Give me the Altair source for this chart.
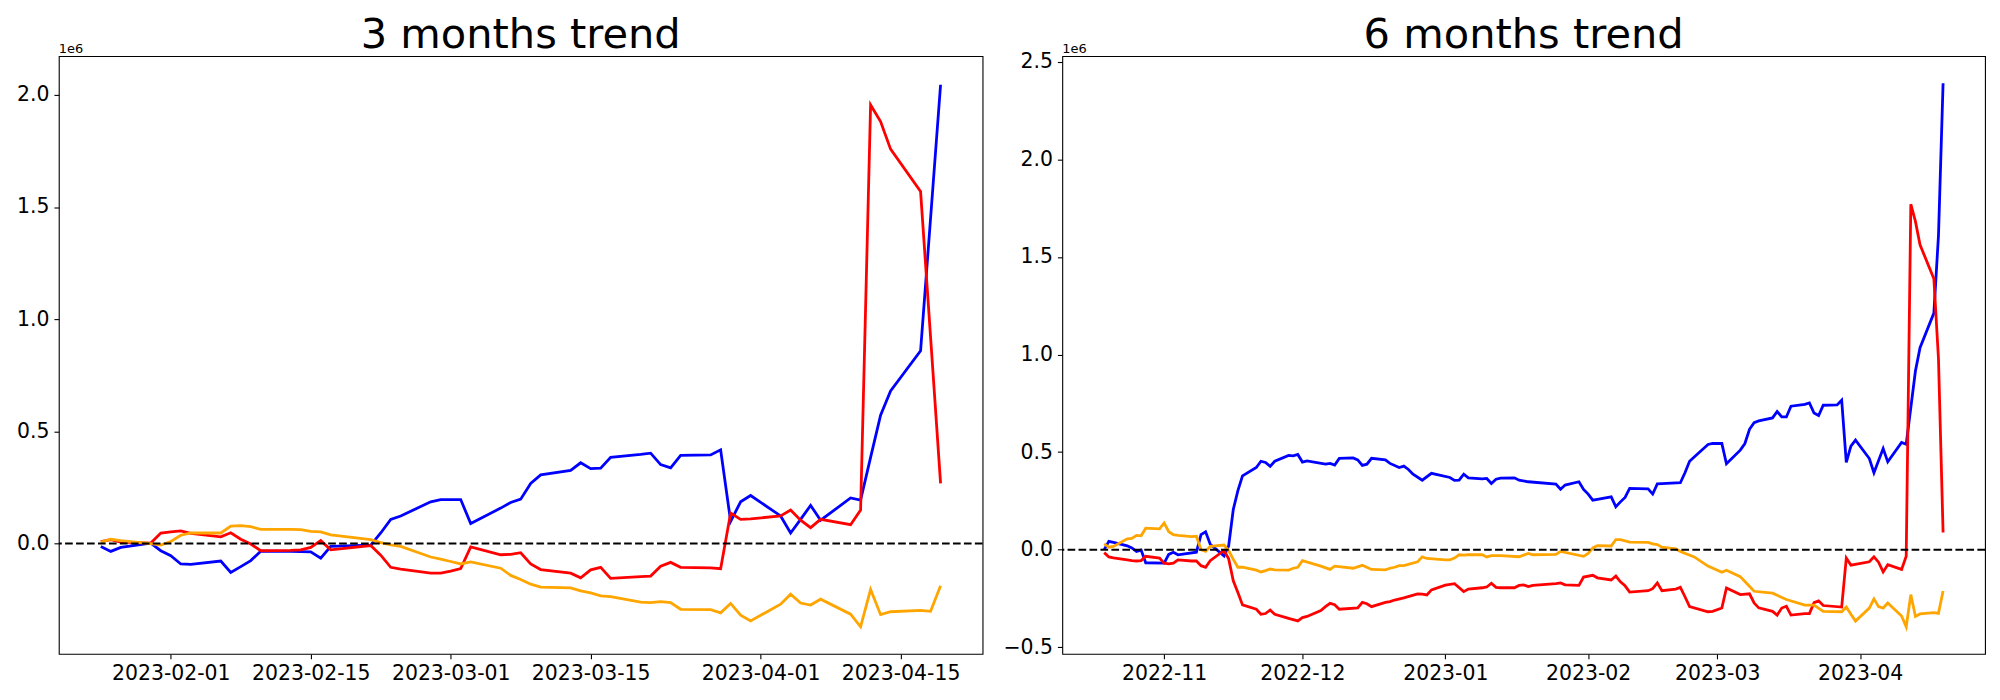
import altair as alt
import pandas as pd

# ---------------- 3 months panel (values in units of 1e6) ----------------
L_DATES = [
    "2023-01-25", "2023-01-26", "2023-01-27", "2023-01-30", "2023-01-31",
    "2023-02-01", "2023-02-02", "2023-02-03", "2023-02-06", "2023-02-07",
    "2023-02-08", "2023-02-09", "2023-02-10", "2023-02-13", "2023-02-14",
    "2023-02-15", "2023-02-16", "2023-02-17", "2023-02-21", "2023-02-22",
    "2023-02-23", "2023-02-24", "2023-02-27", "2023-02-28", "2023-03-01",
    "2023-03-02", "2023-03-03", "2023-03-06", "2023-03-07", "2023-03-08",
    "2023-03-09", "2023-03-10", "2023-03-13", "2023-03-14", "2023-03-15",
    "2023-03-16", "2023-03-17", "2023-03-20", "2023-03-21", "2023-03-22",
    "2023-03-23", "2023-03-24", "2023-03-27", "2023-03-28", "2023-03-29",
    "2023-03-30", "2023-03-31", "2023-04-03", "2023-04-04", "2023-04-05",
    "2023-04-06", "2023-04-07", "2023-04-10", "2023-04-11", "2023-04-12",
    "2023-04-13", "2023-04-14", "2023-04-17", "2023-04-18", "2023-04-19",
]
L_BLUE = [
    -0.013, -0.035, -0.017, 0.002, -0.032,
    -0.054, -0.091, -0.093, -0.078, -0.129,
    -0.103, -0.076, -0.034, -0.035, -0.036,
    -0.037, -0.065, -0.013, -0.007, 0.047,
    0.108, 0.123, 0.186, 0.196, 0.196,
    0.196, 0.089, 0.158, 0.183, 0.198,
    0.268, 0.306, 0.326, 0.360, 0.334,
    0.336, 0.384, 0.397, 0.403, 0.352,
    0.337, 0.393, 0.395, 0.418, 0.099,
    0.186, 0.214, 0.123, 0.047, 0.108,
    0.170, 0.104, 0.203, 0.194, 0.384,
    0.572, 0.680, 0.859, 1.450, 2.045,
]
L_RED = [
    0.009, 0.017, 0.006, 0.002, 0.047,
    0.052, 0.056, 0.045, 0.030, 0.048,
    0.019, -0.002, -0.032, -0.030, -0.028,
    -0.017, 0.013, -0.028, -0.009, -0.052,
    -0.106, -0.114, -0.132, -0.132, -0.123,
    -0.112, -0.015, -0.050, -0.048, -0.041,
    -0.091, -0.116, -0.132, -0.153, -0.117,
    -0.106, -0.155, -0.147, -0.145, -0.101,
    -0.084, -0.106, -0.108, -0.112, 0.136,
    0.108, 0.110, 0.123, 0.149, 0.104,
    0.071, 0.108, 0.084, 0.149, 1.955,
    1.881, 1.758, 1.569, 0.920, 0.268,
]
L_ORANGE = [
    0.006, 0.019, 0.013, 0.000, -0.007,
    0.009, 0.037, 0.048, 0.047, 0.078,
    0.080, 0.075, 0.063, 0.063, 0.062,
    0.054, 0.052, 0.039, 0.017, 0.004,
    -0.006, -0.013, -0.060, -0.069, -0.080,
    -0.091, -0.082, -0.110, -0.142, -0.160,
    -0.181, -0.194, -0.198, -0.211, -0.220,
    -0.233, -0.237, -0.261, -0.263, -0.259,
    -0.263, -0.293, -0.295, -0.309, -0.267,
    -0.319, -0.345, -0.270, -0.226, -0.265,
    -0.274, -0.248, -0.315, -0.371, -0.205,
    -0.317, -0.304, -0.298, -0.302, -0.188,
]

# ---------------- 6 months panel (values in units of 1e6) ----------------
R_BLUE_DATES = [
    "2022-10-19", "2022-10-20", "2022-10-21", "2022-10-24", "2022-10-25", "2022-10-26",
    "2022-10-27", "2022-10-28", "2022-11-01", "2022-11-02", "2022-11-03", "2022-11-04",
    "2022-11-08", "2022-11-09", "2022-11-10", "2022-11-11", "2022-11-14", "2022-11-15",
    "2022-11-16", "2022-11-17", "2022-11-18", "2022-11-21", "2022-11-22", "2022-11-23",
    "2022-11-24", "2022-11-25", "2022-11-28", "2022-11-29", "2022-11-30", "2022-12-01",
    "2022-12-02", "2022-12-06", "2022-12-07", "2022-12-08", "2022-12-09", "2022-12-12",
    "2022-12-13", "2022-12-14", "2022-12-15", "2022-12-16", "2022-12-19", "2022-12-20",
    "2022-12-22", "2022-12-23", "2022-12-24", "2022-12-25", "2022-12-27", "2022-12-29",
    "2023-01-02", "2023-01-03", "2023-01-04", "2023-01-05", "2023-01-06", "2023-01-09",
    "2023-01-10", "2023-01-11", "2023-01-12", "2023-01-13", "2023-01-16", "2023-01-17",
    "2023-01-19", "2023-01-25", "2023-01-26", "2023-01-27", "2023-01-30", "2023-01-31",
    "2023-02-01", "2023-02-02", "2023-02-03", "2023-02-06", "2023-02-07", "2023-02-08",
    "2023-02-09", "2023-02-10", "2023-02-14", "2023-02-15", "2023-02-16", "2023-02-17",
    "2023-02-21", "2023-02-22", "2023-02-23", "2023-02-24", "2023-02-27", "2023-02-28",
    "2023-03-02", "2023-03-03", "2023-03-06", "2023-03-07", "2023-03-08", "2023-03-09",
    "2023-03-10", "2023-03-13", "2023-03-14", "2023-03-15", "2023-03-16", "2023-03-17",
    "2023-03-20", "2023-03-21", "2023-03-22", "2023-03-23", "2023-03-24", "2023-03-27",
    "2023-03-28", "2023-03-29", "2023-03-30", "2023-03-31", "2023-04-03", "2023-04-04",
    "2023-04-06", "2023-04-07", "2023-04-10", "2023-04-11", "2023-04-13", "2023-04-14",
    "2023-04-17", "2023-04-18", "2023-04-19",
]
R_BLUE = [
    0.000, 0.043, 0.037, 0.020, 0.009, -0.009,
    -0.002, -0.067, -0.069, -0.024, -0.013, -0.026,
    -0.013, 0.077, 0.092, 0.028, -0.032, 0.020,
    0.206, 0.303, 0.378, 0.421, 0.453, 0.447,
    0.427, 0.453, 0.483, 0.481, 0.488, 0.449,
    0.455, 0.438, 0.442, 0.434, 0.468, 0.470,
    0.460, 0.432, 0.438, 0.468, 0.460, 0.442,
    0.421, 0.428, 0.411, 0.387, 0.356, 0.391,
    0.370, 0.355, 0.356, 0.387, 0.368, 0.363,
    0.365, 0.339, 0.361, 0.367, 0.368, 0.356,
    0.348, 0.336, 0.310, 0.331, 0.348, 0.309,
    0.285, 0.254, 0.258, 0.271, 0.220, 0.245,
    0.268, 0.314, 0.312, 0.285, 0.337, 0.339,
    0.343, 0.394, 0.453, 0.475, 0.539, 0.544,
    0.544, 0.440, 0.510, 0.544, 0.617, 0.651,
    0.660, 0.675, 0.708, 0.680, 0.680, 0.735,
    0.745, 0.752, 0.700, 0.687, 0.740, 0.742,
    0.766, 0.447, 0.530, 0.561, 0.467, 0.394,
    0.518, 0.450, 0.549, 0.540, 0.915, 1.035,
    1.212, 1.609, 2.390,
]

R_RED_DATES = [
    "2022-10-19", "2022-10-20", "2022-10-21", "2022-10-24", "2022-10-25", "2022-10-26",
    "2022-10-27", "2022-10-28", "2022-10-31", "2022-11-01", "2022-11-02", "2022-11-03",
    "2022-11-04", "2022-11-07", "2022-11-08", "2022-11-09", "2022-11-10", "2022-11-11",
    "2022-11-14", "2022-11-15", "2022-11-16", "2022-11-17", "2022-11-18", "2022-11-21",
    "2022-11-22", "2022-11-23", "2022-11-24", "2022-11-25", "2022-11-28", "2022-11-30",
    "2022-12-01", "2022-12-02", "2022-12-05", "2022-12-06", "2022-12-07", "2022-12-08",
    "2022-12-09", "2022-12-13", "2022-12-14", "2022-12-15", "2022-12-16", "2022-12-19",
    "2022-12-20", "2022-12-21", "2022-12-23", "2022-12-26", "2022-12-27", "2022-12-28",
    "2022-12-29", "2023-01-01", "2023-01-03", "2023-01-05", "2023-01-06", "2023-01-09",
    "2023-01-10", "2023-01-11", "2023-01-12", "2023-01-13", "2023-01-16", "2023-01-17",
    "2023-01-18", "2023-01-19", "2023-01-20", "2023-01-25", "2023-01-26", "2023-01-27",
    "2023-01-30", "2023-01-31", "2023-02-02", "2023-02-03", "2023-02-06", "2023-02-07",
    "2023-02-08", "2023-02-09", "2023-02-10", "2023-02-14", "2023-02-15", "2023-02-16",
    "2023-02-17", "2023-02-20", "2023-02-21", "2023-02-22", "2023-02-23", "2023-02-27",
    "2023-02-28", "2023-03-02", "2023-03-03", "2023-03-06", "2023-03-08", "2023-03-09",
    "2023-03-10", "2023-03-13", "2023-03-14", "2023-03-15", "2023-03-16", "2023-03-17",
    "2023-03-20", "2023-03-21", "2023-03-22", "2023-03-23", "2023-03-24", "2023-03-28",
    "2023-03-29", "2023-03-30", "2023-04-03", "2023-04-04", "2023-04-05", "2023-04-06",
    "2023-04-07", "2023-04-10", "2023-04-11", "2023-04-12", "2023-04-13", "2023-04-14",
    "2023-04-17", "2023-04-18", "2023-04-19",
]
R_RED = [
    -0.015, -0.037, -0.042, -0.052, -0.056, -0.058,
    -0.056, -0.034, -0.043, -0.069, -0.073, -0.069,
    -0.052, -0.058, -0.058, -0.082, -0.090, -0.056,
    -0.004, -0.047, -0.159, -0.219, -0.283, -0.305,
    -0.331, -0.327, -0.309, -0.331, -0.352, -0.365,
    -0.348, -0.342, -0.312, -0.292, -0.275, -0.282,
    -0.305, -0.298, -0.270, -0.277, -0.292, -0.270,
    -0.266, -0.258, -0.247, -0.226, -0.228, -0.232,
    -0.206, -0.182, -0.174, -0.215, -0.202, -0.195,
    -0.191, -0.172, -0.193, -0.195, -0.195, -0.183,
    -0.180, -0.189, -0.183, -0.174, -0.170, -0.180,
    -0.183, -0.140, -0.131, -0.144, -0.155, -0.135,
    -0.165, -0.185, -0.217, -0.210, -0.200, -0.170,
    -0.210, -0.202, -0.193, -0.241, -0.292, -0.318,
    -0.316, -0.299, -0.196, -0.230, -0.226, -0.273,
    -0.298, -0.316, -0.335, -0.299, -0.290, -0.335,
    -0.327, -0.327, -0.271, -0.262, -0.286, -0.294,
    -0.043, -0.079, -0.062, -0.037, -0.064, -0.114,
    -0.077, -0.101, -0.034, 1.770, 1.682, 1.562,
    1.388, 0.979, 0.088,
]

R_ORANGE_DATES = [
    "2022-10-19", "2022-10-20", "2022-10-21", "2022-10-24", "2022-10-25", "2022-10-26",
    "2022-10-27", "2022-10-28", "2022-10-31", "2022-11-01", "2022-11-02", "2022-11-03",
    "2022-11-04", "2022-11-07", "2022-11-08", "2022-11-09", "2022-11-10", "2022-11-11",
    "2022-11-14", "2022-11-15", "2022-11-16", "2022-11-17", "2022-11-18", "2022-11-21",
    "2022-11-22", "2022-11-23", "2022-11-24", "2022-11-25", "2022-11-28", "2022-11-29",
    "2022-11-30", "2022-12-01", "2022-12-05", "2022-12-07", "2022-12-08", "2022-12-12",
    "2022-12-14", "2022-12-16", "2022-12-19", "2022-12-20", "2022-12-21", "2022-12-22",
    "2022-12-23", "2022-12-26", "2022-12-27", "2022-12-28", "2023-01-01", "2023-01-02",
    "2023-01-03", "2023-01-04", "2023-01-05", "2023-01-06", "2023-01-09", "2023-01-10",
    "2023-01-11", "2023-01-13", "2023-01-17", "2023-01-19", "2023-01-20", "2023-01-25",
    "2023-01-26", "2023-01-31", "2023-02-01", "2023-02-02", "2023-02-03", "2023-02-06",
    "2023-02-07", "2023-02-08", "2023-02-10", "2023-02-14", "2023-02-15", "2023-02-16",
    "2023-02-17", "2023-02-20", "2023-02-21", "2023-02-24", "2023-02-27", "2023-03-02",
    "2023-03-03", "2023-03-06", "2023-03-07", "2023-03-09", "2023-03-13", "2023-03-16",
    "2023-03-20", "2023-03-22", "2023-03-24", "2023-03-28", "2023-03-29", "2023-03-30",
    "2023-03-31", "2023-04-03", "2023-04-04", "2023-04-05", "2023-04-06", "2023-04-07",
    "2023-04-10", "2023-04-11", "2023-04-12", "2023-04-13", "2023-04-14", "2023-04-17",
    "2023-04-18", "2023-04-19",
]
R_ORANGE = [
    0.030, 0.013, 0.017, 0.056, 0.058, 0.073,
    0.071, 0.110, 0.107, 0.137, 0.092, 0.077,
    0.073, 0.067, 0.069, 0.000, -0.009, 0.017,
    0.024, -0.004, -0.050, -0.090, -0.090, -0.105,
    -0.114, -0.107, -0.099, -0.103, -0.105, -0.095,
    -0.090, -0.056, -0.084, -0.101, -0.084, -0.095,
    -0.080, -0.101, -0.103, -0.095, -0.090, -0.082,
    -0.082, -0.062, -0.037, -0.045, -0.052, -0.052,
    -0.043, -0.026, -0.028, -0.026, -0.026, -0.037,
    -0.030, -0.030, -0.036, -0.019, -0.026, -0.024,
    -0.009, -0.034, -0.019, 0.009, 0.021, 0.019,
    0.052, 0.052, 0.039, 0.037, 0.030, 0.026,
    0.013, 0.004, -0.009, -0.037, -0.084, -0.116,
    -0.105, -0.138, -0.163, -0.213, -0.223, -0.255,
    -0.284, -0.284, -0.316, -0.318, -0.294, -0.331,
    -0.366, -0.299, -0.252, -0.292, -0.299, -0.273,
    -0.340, -0.395, -0.230, -0.342, -0.329, -0.322,
    -0.326, -0.212,
]

L_XTICKS = ["2023-02-01", "2023-02-15", "2023-03-01", "2023-03-15", "2023-04-01", "2023-04-15"]
R_XTICKS = ["2022-11-01", "2022-12-01", "2023-01-01", "2023-02-01", "2023-03-01", "2023-04-01"]
L_YTICKS = [0.0, 0.5, 1.0, 1.5, 2.0]
R_YTICKS = [-0.5, 0.0, 0.5, 1.0, 1.5, 2.0, 2.5]

FONT = "DejaVu Sans"


def dt(s, hours=0, minutes=0):
    y, m, d = (int(p) for p in s.split("-"))
    return alt.DateTime(year=y, month=m, date=d, hours=hours, minutes=minutes, utc=True)


def panel(series, title, x_domain, x_ticks, x_fmt, y_domain, y_ticks, width, height):
    x_axis = alt.Axis(
        values=[dt(t) for t in x_ticks],
        labelExpr=f"utcFormat(datum.value, '{x_fmt}')",
        title=None, grid=False, domain=False, tickSize=4.9, tickColor="black",
        tickWidth=1.1, labelFont=FONT, labelFontSize=20.5, labelColor="black",
        labelPadding=4.9, labelFlush=False, labelOverlap=False,
    )
    y_axis = alt.Axis(
        values=y_ticks, format=".1f", title=None, grid=False, domain=False,
        tickSize=4.9, tickColor="black", tickWidth=1.1, labelFont=FONT,
        labelFontSize=20.5, labelColor="black", labelPadding=4.9, labelOverlap=False,
    )
    x_scale = alt.Scale(type="utc", domain=x_domain, nice=False)
    y_scale = alt.Scale(domain=y_domain, nice=False, zero=False)
    layers = []
    for color, dates, vals in series:
        df = pd.DataFrame({"date": dates, "value": vals})
        layers.append(
            alt.Chart(df).mark_line(color=color, strokeWidth=2.8).encode(
                x=alt.X("date:T", scale=x_scale, axis=x_axis),
                y=alt.Y("value:Q", scale=y_scale, axis=y_axis),
            )
        )
    zero = alt.Chart(pd.DataFrame({"value": [0.0]})).mark_rule(
        color="black", strokeWidth=2.1, strokeDash=[7.7, 3.3]
    ).encode(y=alt.Y("value:Q"))
    offset_text = alt.Chart(pd.DataFrame({"t": ["1e6"]})).mark_text(
        align="left", baseline="alphabetic", font=FONT, fontSize=13, color="black"
    ).encode(text="t:N", x=alt.value(0), y=alt.value(-3))
    title_text = alt.Chart(pd.DataFrame({"t": [title]})).mark_text(
        align="center", baseline="alphabetic", font=FONT, fontSize=41.7, color="black"
    ).encode(text="t:N", x=alt.value(width / 2), y=alt.value(-8.3))
    return alt.layer(*layers, zero, offset_text, title_text).properties(
        width=width, height=height,
    )


left = panel(
    [("blue", L_DATES, L_BLUE), ("red", L_DATES, L_RED), ("orange", L_DATES, L_ORANGE)],
    "3 months trend",
    [dt("2023-01-20", 19, 12), dt("2023-04-23", 4, 48)],
    L_XTICKS, "%Y-%m-%d", [-0.492, 2.173], L_YTICKS, 927, 600,
)
right = panel(
    [("blue", R_BLUE_DATES, R_BLUE), ("red", R_RED_DATES, R_RED), ("orange", R_ORANGE_DATES, R_ORANGE)],
    "6 months trend",
    [dt("2022-10-09", 21, 36), dt("2023-04-28", 2, 24)],
    R_XTICKS, "%Y-%m", [-0.534, 2.529], R_YTICKS, 926, 600,
)

chart = alt.hconcat(left, right, spacing=17).properties(
    padding={"left": 8, "top": 5, "right": 5, "bottom": 5},
    background="white",
).configure_view(stroke="black", strokeWidth=1.1)

chart.save("out.html", embed_options={"renderer": "svg", "actions": False})
